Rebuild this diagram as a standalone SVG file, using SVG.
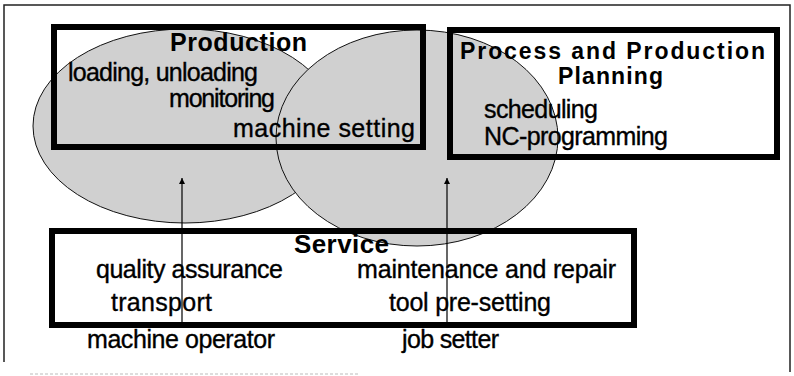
<svg xmlns="http://www.w3.org/2000/svg" width="794" height="376" viewBox="0 0 794 376">
<style>
.frame{fill:none;stroke:#222;stroke-width:1.5}
.ell{fill:#d0d0d0;stroke:#111;stroke-width:1}
.box{fill:none;stroke:#000;stroke-width:6}
.t{font-family:"Liberation Sans",Arial,sans-serif;font-size:25px;fill:#000;stroke:#000;stroke-width:0.35}
.b{font-family:"Liberation Sans",Arial,sans-serif;font-weight:bold;fill:#000}
.conn{stroke:#000;stroke-width:1.2;fill:none}
</style>
<defs>
<marker id="ah" viewBox="0 0 10 10" refX="10" refY="5" markerWidth="8" markerHeight="6" markerUnits="userSpaceOnUse" orient="auto">
<path d="M0,0 L10,5 L0,10 z" fill="#000"/>
</marker>
</defs>
<rect width="794" height="376" fill="#fff"/>
<g id="frame">
<path class="frame" d="M4,362 V5 H790 V372"/>
<path d="M30,374 H360" stroke="#bbb" stroke-width="1" stroke-dasharray="3,2"/>
</g>
<g id="areas">
<ellipse class="ell" cx="185" cy="126" rx="152" ry="97"/>
<ellipse class="ell" cx="417" cy="138" rx="141" ry="108"/>
</g>
<g id="production">
<rect class="box" x="54" y="27" width="369" height="120"/>
<text class="b" x="170" y="51" font-size="25" textLength="137">Production</text>
<text class="t" x="68" y="81" textLength="190">loading, unloading</text>
<text class="t" x="169" y="107" textLength="106">monitoring</text>
<text class="t" x="233" y="137" textLength="182">machine setting</text>
</g>
<g id="planning">
<rect class="box" x="450" y="30" width="327" height="127"/>
<text class="b" x="460" y="59" font-size="23" textLength="305">Process and Production</text>
<text class="b" x="558" y="84" font-size="23" textLength="105">Planning</text>
<text class="t" x="484" y="118" textLength="114">scheduling</text>
<text class="t" x="484" y="145" textLength="184">NC-programming</text>
</g>
<g id="service">
<rect class="box" x="52" y="231" width="582" height="94"/>
<text class="b" x="294" y="253" font-size="26" textLength="95">Service</text>
<text class="t" x="96" y="278" textLength="187">quality assurance</text>
<text class="t" x="357" y="278" textLength="259">maintenance and repair</text>
<text class="t" x="111" y="311" textLength="101">transport</text>
<text class="t" x="389" y="311" textLength="162">tool pre-setting</text>
</g>
<g id="roles">
<text class="t" x="87" y="348" textLength="188">machine operator</text>
<text class="t" x="402" y="348" textLength="97">job setter</text>
</g>
<g id="connectors">
<line class="conn" x1="182" y1="322" x2="182" y2="178" marker-end="url(#ah)"/>
<line class="conn" x1="447" y1="322" x2="447" y2="178" marker-end="url(#ah)"/>
</g>
</svg>
